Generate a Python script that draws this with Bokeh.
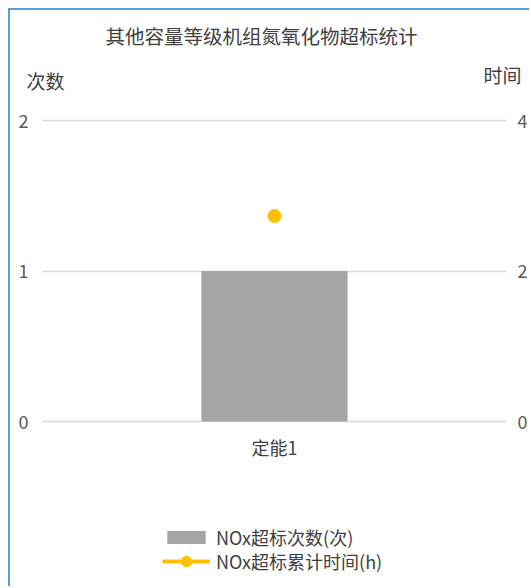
from bokeh.plotting import figure
from bokeh.models import (Range1d, FactorRange, LinearAxis, CategoricalAxis, FixedTicker,
                          Label, Legend, LegendItem, ColumnDataSource)
from bokeh.embed import file_html
from bokeh.resources import INLINE

# ---- data ----
categories = ["定能1"]
nox_counts = [1]          # NOx超标次数(次)
nox_hours = [2.73]        # NOx超标累计时间(h)
left_ticks = [0, 1, 2]
right_ticks = [0, 2, 4]
title_text = "其他容量等级机组氮氧化物超标统计"
left_label = "次数"
right_label = "时间"
bar_name = "NOx超标次数(次)"
line_name = "NOx超标累计时间(h)"

FONT = "Noto Sans CJK SC"
TXT = "#404040"
TICK = "#595959"

# layout (absolute page pixels)
CX, CY = 10, 10          # figure content origin
FX0, FX1 = 17, 531       # frame x extent
FY0, FY1 = 10, 588       # frame y extent
DL, DR, DT, DB = 42, 506, 120, 421   # data area edges
W, H = 531 - CX, 588 - CY

unit_x = DR - DL
pad_x = (DL - FX0) / unit_x
unit_y = (DB - DT) / 2.0
y0 = -(FY1 - DB) / unit_y
y1 = 2 + (DT - FY0) / unit_y

p = figure(width=W, height=H,
           x_range=FactorRange(*categories, range_padding=pad_x, range_padding_units="absolute"),
           y_range=Range1d(y0, y1),
           output_backend="svg", toolbar_location=None,
           min_border_left=FX0 - CX, min_border_right=0, min_border_top=0, min_border_bottom=0,
           x_axis_location=None, y_axis_location=None)
p.styles = {"margin-left": "8px", "margin-top": "8px",
            "border-left": "2px solid #5b9bd5", "border-top": "2px solid #5b9bd5"}
p.outline_line_color = None
p.background_fill_color = "white"
p.border_fill_color = "white"
p.extra_y_ranges = {"y2": Range1d(2 * y0, 2 * y1)}

src = ColumnDataSource(dict(cat=categories, cnt=nox_counts, hrs=nox_hours))

# grid lines drawn over the data area only
p.xgrid.visible = False
p.ygrid.ticker = FixedTicker(ticks=left_ticks)
p.ygrid.grid_line_color = "#d9d9d9"
p.ygrid.grid_line_width = 1.5
p.ygrid.cross_bounds = (0, 1)

bar = p.vbar(x="cat", top="cnt", width=0.315, source=src, color="#a5a5a5", line_color=None)
ln = p.line(x="cat", y="hrs", source=src, y_range_name="y2", line_color="#ffc000", line_width=4)
pt = p.scatter(x="cat", y="hrs", source=src, y_range_name="y2", size=13,
               fill_color="#ffc000", line_color="#ffc000")

# axes drawn at fixed locations inside the frame
xa = CategoricalAxis(fixed_location=0)
ya = LinearAxis(ticker=FixedTicker(ticks=left_ticks), fixed_location=0)
yb = LinearAxis(y_range_name="y2", ticker=FixedTicker(ticks=right_ticks), fixed_location=1)
for ax in (xa, ya, yb):
    ax.axis_line_color = None
    ax.major_tick_line_color = None
    ax.minor_tick_line_color = None
    ax.major_tick_out = 0
    ax.major_tick_in = 0
    ax.minor_tick_out = 0
    ax.major_label_text_font = FONT
    ax.major_label_text_font_size = "18px"
    ax.major_label_text_color = TICK
xa.major_label_text_color = TXT
xa.major_label_standoff = 12
ya.major_label_standoff = 14
yb.major_label_standoff = 11
p.add_layout(xa, "below")
p.add_layout(ya, "left")
p.add_layout(yb, "right")


def lab(text, ax, ay, size="19px", color=TXT, align="center"):
    p.add_layout(Label(x=ax - FX0, y=FY1 - ay, x_units="screen", y_units="screen",
                       text=text, text_font=FONT, text_font_size=size,
                       text_color=color, text_align=align, text_baseline="middle"))


lab(title_text, 261, 35, size="19.5px")
lab(left_label, 45, 80)
lab(right_label, 502, 74)

# legends
common = dict(orientation="vertical", glyph_width=48, label_height=20, spacing=0,
              padding=0, margin=0, border_line_color=None, background_fill_alpha=0,
              label_standoff=6, label_text_font=FONT, label_text_font_size="18px",
              label_text_color=TXT)
leg1 = Legend(items=[LegendItem(label=bar_name, renderers=[bar])],
              location=(162 - FX0, FY1 - 549.5), glyph_height=16, **common)
leg2 = Legend(items=[LegendItem(label=line_name, renderers=[ln, pt])],
              location=(162 - FX0, FY1 - 574), glyph_height=26, **common)
p.add_layout(leg1, "center")
p.add_layout(leg2, "center")

open("out.html", "w").write(file_html(p, INLINE))
